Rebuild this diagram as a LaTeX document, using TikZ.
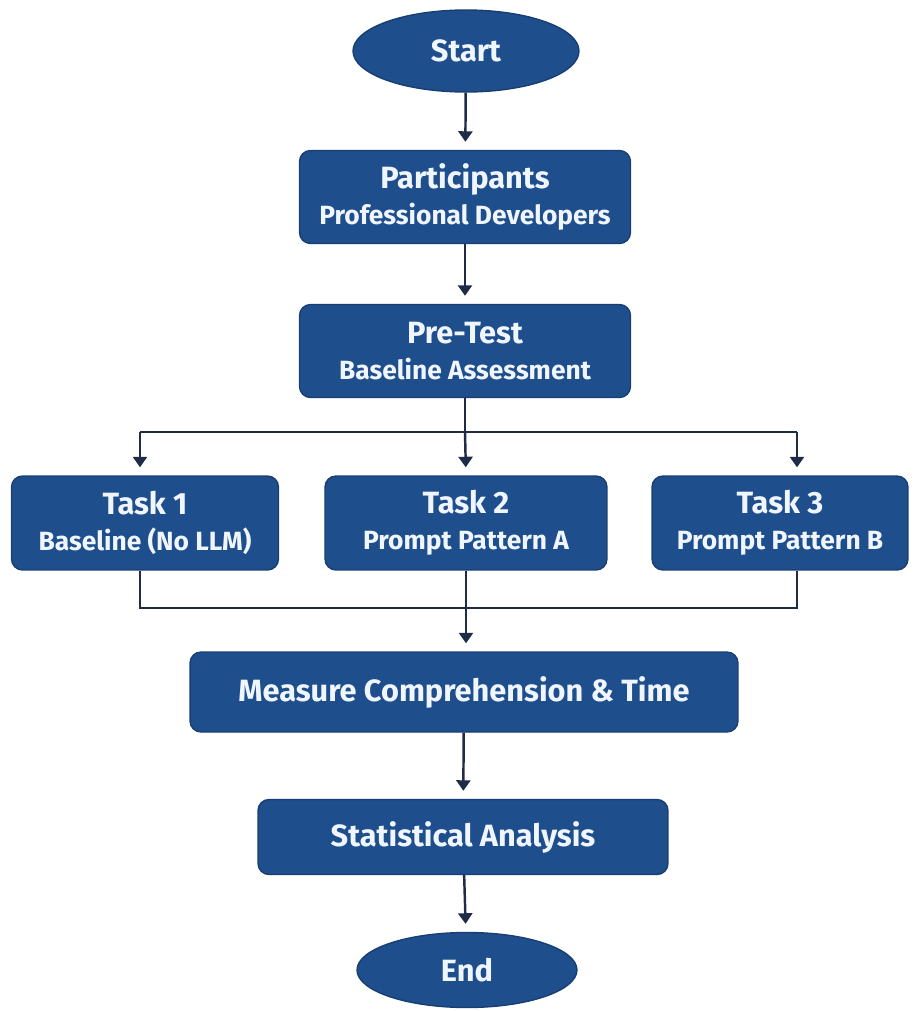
\documentclass[tikz,border=0pt]{standalone}
\usepackage{fontspec}
\setmainfont{Fira Sans}
\usetikzlibrary{shapes.geometric,arrows.meta}
\definecolor{boxblue}{RGB}{31,78,140}
\definecolor{boxedge}{RGB}{24,62,115}
\definecolor{linenavy}{RGB}{30,44,72}
\definecolor{textwhite}{RGB}{240,246,255}
\newcommand{\titletext}[2]{{\fontsize{17.5}{20.5}\selectfont #1}\\{\fontsize{15}{18}\selectfont #2}}
\begin{document}
\begin{tikzpicture}[x=0.02cm,y=-0.02cm,
    stepbox/.style={draw=boxedge, fill=boxblue, rounded corners=0.22cm, line width=0.8pt,
        text=textwhite, font=\bfseries\fontsize{17.5}{20.5}\selectfont, align=center, inner sep=0pt},
    terminal/.style={ellipse, draw=boxedge, fill=boxblue, line width=0.8pt,
        text=textwhite, font=\bfseries\fontsize{17.5}{20.5}\selectfont, inner sep=0pt},
    line/.style={draw=linenavy, line width=1.4pt},
    arr/.style={line, -{Triangle[width=8pt,length=6pt]}, shorten >=0.16cm}]
    \useasboundingbox (0,0) rectangle (914,1011);

    % Start und erste Schritte
    \node[terminal, minimum width=4.52cm, minimum height=1.64cm] (start) at (466,51) {Start};
    \node[stepbox, minimum width=6.62cm, minimum height=1.86cm] (part) at (465,197)
        {\titletext{Participants}{Professional Developers}};
    \node[stepbox, minimum width=6.62cm, minimum height=1.86cm] (pre) at (465,351)
        {\titletext{Pre-Test}{Baseline Assessment}};

    % Drei Aufgaben
    \node[stepbox, minimum width=5.34cm, minimum height=1.88cm] (task1) at (145,523)
        {\titletext{Task 1}{Baseline (No LLM)}};
    \node[stepbox, minimum width=5.64cm, minimum height=1.88cm] (task2) at (466,523)
        {\titletext{Task 2}{Prompt Pattern A}};
    \node[stepbox, minimum width=5.12cm, minimum height=1.88cm] (task3) at (780,523)
        {\titletext{Task 3}{Prompt Pattern B}};

    % Messung und Auswertung
    \node[stepbox, minimum width=10.96cm, minimum height=1.6cm] (measure) at (464,692)
        {Measure Comprehension \& Time};
    \node[stepbox, minimum width=8.2cm, minimum height=1.5cm] (stats) at (463,837)
        {Statistical Analysis};
    \node[terminal, minimum width=4.4cm, minimum height=1.5cm] (end) at (467,970) {End};

    % Verzweigungspunkte
    \coordinate (split1) at (140,432);
    \coordinate (split3) at (797,432);
    \coordinate (merge1) at (140,608);
    \coordinate (merge3) at (797,608);

    % Pfeile
    \draw[arr] (start) -- (part);
    \draw[arr] (part) -- (pre);
    \draw[line] (pre.south) -- (pre.south |- split1);
    \draw[line] (split1) -- (split3);
    \draw[arr] (split1) -- (split1 |- task1.north);
    \draw[arr] (pre.south |- split1) -- (task2.north);
    \draw[arr] (split3) -- (split3 |- task3.north);
    \draw[line] (split1 |- task1.south) -- (merge1) -- (merge3) -- (split3 |- task3.south);
    \draw[arr] (task2.south) -- (task2.south |- measure.north);
    \draw[arr] (measure) -- (stats);
    \draw[arr] (stats) -- (end);
\end{tikzpicture}
\end{document}
